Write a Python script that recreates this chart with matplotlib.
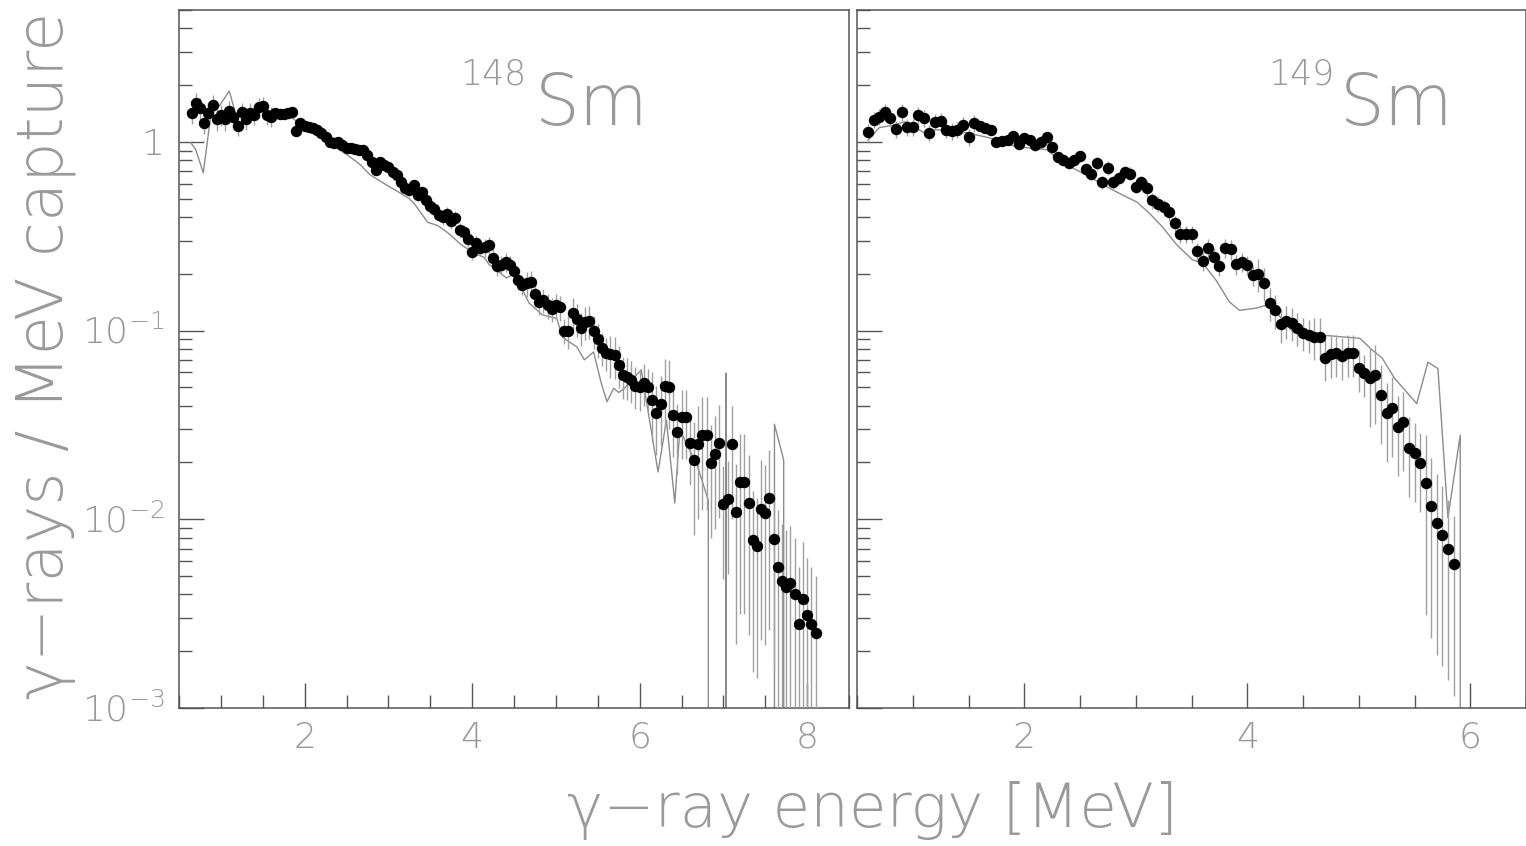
import numpy as np
import matplotlib
matplotlib.use('Agg')
from matplotlib import pyplot as plt
from matplotlib.ticker import LogLocator, MultipleLocator, NullFormatter
import matplotlib.transforms as mtransforms

plt.rcParams['font.family'] = ['DejaVu Sans']
plt.rcParams['mathtext.fontset'] = 'custom'
plt.rcParams['mathtext.rm'] = 'DejaVu Sans:weight=200'
plt.rcParams['mathtext.it'] = 'DejaVu Sans:italic:weight=200'
plt.rcParams['mathtext.bf'] = 'DejaVu Sans:weight=200'

TXT = '#9a9a9a'
AXC = '#555555'
THIN = 200

# 148Sm measured spectrum, 0.05 MeV bins
e148 = np.round(np.arange(0.65, 8.1001, 0.05), 2)
y148 = [1.43, 1.61, 1.51, 1.26, 1.43, 1.57, 1.32, 1.39, 1.32, 1.46,
        1.36, 1.22, 1.44, 1.32, 1.43, 1.39, 1.53, 1.55, 1.39, 1.36,
        1.43, 1.41, 1.41, 1.43, 1.44, 1.14, 1.26, 1.22, 1.20, 1.19,
        1.16, 1.12, 1.06, 1.00, 0.99, 1.00, 0.96, 0.93, 0.93, 0.92,
        0.91, 0.91, 0.85, 0.78, 0.71, 0.78, 0.75, 0.74, 0.69, 0.67,
        0.61, 0.57, 0.556, 0.59, 0.52, 0.54, 0.49, 0.46, 0.44, 0.41,
        0.40, 0.415, 0.38, 0.395, 0.34, 0.333, 0.305, 0.26, 0.29, 0.274,
        0.277, 0.284, 0.243, 0.22, 0.223, 0.231, 0.223, 0.207, 0.185, 0.174,
        0.178, 0.18, 0.156, 0.142, 0.145, 0.136, 0.13, 0.136, 0.133, 0.10,
        0.10, 0.124, 0.115, 0.103, 0.111, 0.113, 0.10, 0.090, 0.081, 0.076,
        0.075, 0.074, 0.066, 0.058, 0.057, 0.055, 0.051, 0.050, 0.053, 0.050,
        0.043, 0.0365, 0.041, 0.0508, 0.050, 0.0356, 0.029, 0.0348, 0.0348, 0.0253,
        0.0206, 0.025, 0.0279, 0.0279, 0.0198, 0.0221, 0.0253, 0.012, 0.0128, 0.025,
        0.0109, 0.0157, 0.0157, 0.0122, 0.0078, 0.0072, 0.0114, 0.0108, 0.0129, 0.0079,
        0.0056, 0.0047, 0.0044, 0.0046, 0.0040, 0.0028, 0.0038, 0.0031, 0.0028, 0.0025]
# relative error, one value per 0.5 MeV band (10 bins)
rel148 = [0.13, 0.12, 0.06, 0.06, 0.06, 0.07, 0.09, 0.11, 0.15, 0.2,
          0.25, 0.4, 0.6, 0.8, 1.0]

# 148Sm simulation
sim148_e = [0.64, 0.70, 0.79, 0.88, 0.99, 1.10, 1.18, 1.29, 1.41, 1.53, 1.71, 1.83,
            1.95, 2.07, 2.19, 2.29, 2.50, 2.66, 2.78, 2.98, 3.13, 3.25, 3.31, 3.47,
            3.59, 3.71, 3.87, 4.04, 4.14, 4.20, 4.41, 4.48, 4.53, 4.68, 4.84, 5.01,
            5.08, 5.25, 5.34, 5.45, 5.54, 5.61, 5.69, 5.75, 5.82, 5.93, 6.02, 6.22,
            6.32, 6.42, 6.48, 6.58, 6.68, 6.82, 6.92, 7.03, 7.19, 7.53, 7.61, 7.72,
            7.82, 8.10]
sim148_y = [0.99, 0.91, 0.685, 1.39, 1.57, 1.86, 1.39, 1.44, 1.51, 1.46, 1.39, 1.37,
            1.23, 1.13, 1.06, 0.98, 0.86, 0.76, 0.67, 0.59, 0.54, 0.50, 0.47, 0.375,
            0.36, 0.33, 0.285, 0.255, 0.245, 0.225, 0.19, 0.198, 0.19, 0.14, 0.121, 0.116,
            0.092, 0.082, 0.070, 0.077, 0.053, 0.042, 0.0495, 0.047, 0.0495, 0.056, 0.062, 0.0178,
            0.0335, 0.0122, 0.030, 0.024, 0.0198, 0.0126, 0, 0.0595, 0, 0, 0.0319, 0.0206,
            0, 0]

# 149Sm measured spectrum
e149 = np.round(np.arange(0.60, 5.8501, 0.05), 2)
y149 = [1.13, 1.31, 1.36, 1.44, 1.34, 1.17, 1.44, 1.20, 1.20, 1.39,
        1.34, 1.12, 1.28, 1.29, 1.16, 1.14, 1.16, 1.23, 1.06, 1.26,
        1.22, 1.19, 1.16, 1.00, 1.01, 1.02, 1.08, 0.98, 1.05, 1.02,
        0.96, 1.00, 1.06, 0.94, 0.83, 0.80, 0.77, 0.80, 0.84, 0.72,
        0.68, 0.77, 0.61, 0.73, 0.61, 0.64, 0.69, 0.68, 0.58, 0.61,
        0.57, 0.49, 0.47, 0.45, 0.425, 0.37, 0.325, 0.325, 0.325, 0.264,
        0.234, 0.274, 0.245, 0.22, 0.274, 0.27, 0.225, 0.231, 0.223, 0.197,
        0.20, 0.179, 0.14, 0.128, 0.108, 0.113, 0.11, 0.103, 0.097, 0.095,
        0.093, 0.093, 0.072, 0.075, 0.076, 0.073, 0.076, 0.076, 0.063, 0.0595,
        0.056, 0.058, 0.0455, 0.0365, 0.039, 0.031, 0.0327, 0.024, 0.0224, 0.0198,
        0.0155, 0.0117, 0.0096, 0.0083, 0.0070, 0.0058]
rel149 = [0.10, 0.10, 0.06, 0.07, 0.08, 0.10, 0.12, 0.2, 0.25, 0.45, 0.8]

# 149Sm simulation
sim149_e = [0.60, 0.70, 0.83, 0.93, 1.10, 1.21, 1.48, 1.69, 1.93, 2.04, 2.20, 2.35,
            2.59, 2.76, 2.89, 3.01, 3.12, 3.24, 3.37, 3.51, 3.60, 3.72, 3.84, 3.93,
            4.08, 4.17, 4.26, 4.40, 4.67, 5.01, 5.12, 5.21, 5.32, 5.52, 5.62, 5.71,
            5.80, 5.91, 6.01]
sim149_y = [1.02, 1.19, 1.23, 1.28, 1.12, 1.16, 1.12, 1.05, 0.94, 0.93, 0.91, 0.774,
            0.65, 0.57, 0.52, 0.48, 0.42, 0.354, 0.284, 0.237, 0.228, 0.185, 0.142, 0.128,
            0.1316, 0.136, 0.125, 0.10, 0.0946, 0.091, 0.079, 0.0715, 0.056, 0.041, 0.068, 0.063,
            0.0102, 0.0279, 0]

W, H = 1526, 846
fig = plt.figure(figsize=(W / 100, H / 100), dpi=100)
ax1 = fig.add_axes([179 / W, 138 / H, 670 / W, 698 / H])
ax2 = fig.add_axes([857 / W, 138 / H, 669 / W, 698 / H])


def draw(ax, e, y, rel, se, sy, xmax):
    y = np.array(y)
    err = y * np.repeat(rel, 10)[:len(y)]
    lo = np.minimum(err, y * 0.9999)
    ax.plot(se, sy, color='#8c8c8c', lw=1.0, zorder=2)
    ax.errorbar(e, y, yerr=[lo, err], fmt='o', color='black', ms=7.2,
                ecolor='#a0a0a0', elinewidth=1.0, capsize=0, zorder=3)
    ax.set_yscale('log', nonpositive='clip')
    ax.set_xlim(0.5, xmax)
    ax.set_ylim(1e-3, 5)
    ax.xaxis.set_major_locator(MultipleLocator(2))
    ax.xaxis.set_minor_locator(MultipleLocator(0.5))
    ax.yaxis.set_major_locator(LogLocator(base=10, numticks=10))
    ax.yaxis.set_minor_locator(LogLocator(base=10, subs=np.arange(2, 10), numticks=20))
    ax.yaxis.set_major_formatter(NullFormatter())
    ax.yaxis.set_minor_formatter(NullFormatter())
    ax.tick_params(which='both', direction='in', top=False, right=False,
                   color=AXC, width=1.0)
    ax.tick_params(which='major', length=18)
    ax.tick_params(which='minor', length=9.5)
    ax.tick_params(axis='x', labelsize=26, labelcolor=TXT, pad=9)
    for lab in ax.get_xticklabels():
        lab.set_fontweight(THIN)
    for s in ax.spines.values():
        s.set_color(AXC)
        s.set_linewidth(1.1)


draw(ax1, e148, y148, rel148, sim148_e, sim148_y, 8.5)
draw(ax2, e149, y149, rel149, sim149_e, sim149_y, 6.5)

# y tick labels, ROOT style
trans = mtransforms.blended_transform_factory(ax1.transAxes, ax1.transData)
for val, lab in [(1, '1'), (1e-1, r'$10^{-1}$'), (1e-2, r'$10^{-2}$'), (1e-3, r'$10^{-3}$')]:
    ax1.annotate(lab, xy=(0, val), xycoords=trans, xytext=(-10, -9.5),
                 textcoords='offset points', ha='right', va='baseline',
                 fontsize=26, color=TXT, fontweight=THIN, annotation_clip=False)

# isotope labels
ax1.text(0.419, 0.893, '148', transform=ax1.transAxes, fontsize=25, color=TXT,
         fontweight=THIN, ha='left', va='baseline')
ax1.text(0.531, 0.835, 'Sm', transform=ax1.transAxes, fontsize=51, color=TXT,
         fontweight=THIN, ha='left', va='baseline')
ax2.text(0.614, 0.893, '149', transform=ax2.transAxes, fontsize=25, color=TXT,
         fontweight=THIN, ha='left', va='baseline')
ax2.text(0.722, 0.835, 'Sm', transform=ax2.transAxes, fontsize=51, color=TXT,
         fontweight=THIN, ha='left', va='baseline')

fig.text(872 / W, 1 - 810 / H, 'γ−ray energy [MeV]', ha='center', va='center',
         fontsize=44, color=TXT, fontweight=THIN)
fig.text(45 / W, 1 - 355 / H, 'γ−rays / MeV capture', rotation=90, ha='center',
         va='center', fontsize=46, color=TXT, fontweight=THIN)

fig.savefig('out.png', dpi=100)
